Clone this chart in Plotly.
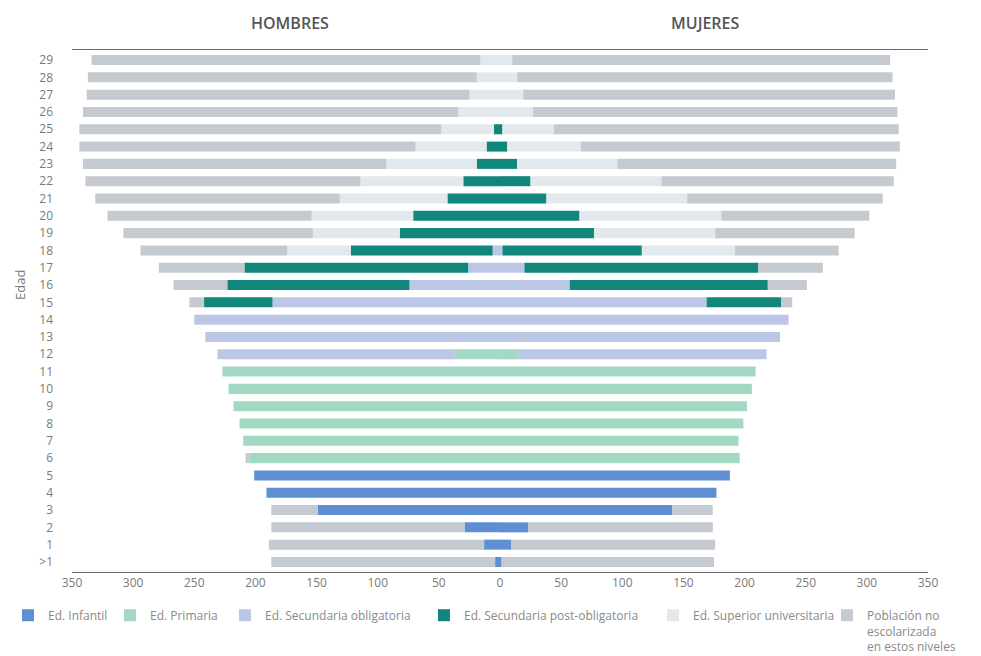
import plotly.graph_objects as go

# edades de abajo (>1) hacia arriba (29)
edades = [">1", "1", "2", "3", "4", "5", "6", "7", "8", "9",
          "10", "11", "12", "13", "14", "15", "16", "17", "18", "19",
          "20", "21", "22", "23", "24", "25", "26", "27", "28", "29"]

# HOMBRES (miles)
h_infantil = [4, 13, 29, 149, 191, 201, 0, 0, 0, 0,
              0, 0, 0, 0, 0, 0, 0, 0, 0, 0,
              0, 0, 0, 0, 0, 0, 0, 0, 0, 0]
h_primaria = [0, 0, 0, 0, 0, 0, 205, 210, 213, 218,
              222, 227, 37, 0, 0, 0, 0, 0, 0, 0,
              0, 0, 0, 0, 0, 0, 0, 0, 0, 0]
h_sec_obl = [0, 0, 0, 0, 0, 0, 0, 0, 0, 0,
             0, 0, 194, 241, 250, 186, 74, 26, 6, 0,
             0, 0, 0, 0, 0, 0, 0, 0, 0, 0]
h_sec_post = [0, 0, 0, 0, 0, 0, 0, 0, 0, 0,
              0, 0, 0, 0, 0, 56, 149, 183, 116, 82,
              71, 43, 30, 19, 11, 5, 0, 0, 0, 0]
h_superior = [0, 0, 0, 0, 0, 0, 0, 0, 0, 0,
              0, 0, 0, 0, 0, 0, 0, 0, 52, 71,
              83, 88, 84, 74, 58, 43, 34, 25, 19, 16]
h_no_esc = [183, 176, 158, 38, 0, 0, 3, 0, 0, 0,
            0, 0, 0, 0, 0, 12, 44, 70, 120, 155,
            167, 200, 225, 248, 275, 296, 307, 313, 318, 318]

# MUJERES (miles)
m_infantil = [1, 9, 23, 141, 177, 188, 0, 0, 0, 0,
              0, 0, 0, 0, 0, 0, 0, 0, 0, 0,
              0, 0, 0, 0, 0, 0, 0, 0, 0, 0]
m_primaria = [0, 0, 0, 0, 0, 0, 196, 195, 199, 202,
              206, 209, 14, 0, 0, 0, 0, 0, 0, 0,
              0, 0, 0, 0, 0, 0, 0, 0, 0, 0]
m_sec_obl = [0, 0, 0, 0, 0, 0, 0, 0, 0, 0,
             0, 0, 204, 229, 236, 169, 57, 20, 2, 0,
             0, 0, 0, 0, 0, 0, 0, 0, 0, 0]
m_sec_post = [0, 0, 0, 0, 0, 0, 0, 0, 0, 0,
              0, 0, 0, 0, 0, 61, 162, 191, 114, 77,
              65, 38, 25, 14, 6, 2, 0, 0, 0, 0]
m_superior = [0, 0, 0, 0, 0, 0, 0, 0, 0, 0,
              0, 0, 0, 0, 0, 0, 0, 0, 76, 99,
              116, 115, 107, 82, 60, 42, 27, 19, 14, 10]
m_no_esc = [174, 167, 151, 33, 0, 0, 0, 0, 0, 0,
            0, 0, 0, 0, 0, 9, 32, 53, 85, 114,
            121, 160, 190, 228, 261, 282, 298, 304, 307, 309]

niveles = [
    ("Ed. Infantil", h_infantil, m_infantil, "#5f8fd3"),
    ("Ed. Primaria", h_primaria, m_primaria, "#a3d9c2"),
    ("Ed. Secundaria obligatoria", h_sec_obl, m_sec_obl, "#bcc6e6"),
    ("Ed. Secundaria post-obligatoria", h_sec_post, m_sec_post, "#10877a"),
    ("Ed. Superior universitaria", h_superior, m_superior, "#e3e8ec"),
    ("Población no<br>escolarizada<br>en estos niveles", h_no_esc, m_no_esc, "#c4cacf"),
]

# una leyenda por nivel para poder colocarlas como en el original
legend_ids = ["legend", "legend2", "legend3", "legend4", "legend5", "legend6"]
legend_x = [0.0, 0.1048, 0.2230, 0.4275, 0.6629, 0.8417]

fig = go.Figure()
for (nombre, hombres, mujeres, color), lid in zip(niveles, legend_ids):
    fig.add_trace(go.Bar(
        y=edades, x=[-v for v in hombres], orientation="h",
        name=nombre, legendgroup=nombre, legend=lid,
        marker=dict(color=color, line=dict(width=0)),
        customdata=hombres, hovertemplate="Hombres %{y}: %{customdata}<extra></extra>",
    ))
    fig.add_trace(go.Bar(
        y=edades, x=mujeres, orientation="h",
        name=nombre, legendgroup=nombre, legend=lid, showlegend=False,
        marker=dict(color=color, line=dict(width=0)),
        hovertemplate="Mujeres %{y}: %{x}<extra></extra>",
    ))

ticks = [-350, -300, -250, -200, -150, -100, -50, 0, 50, 100, 150, 200, 250, 300, 350]

# la página tiene 8 px de margen, así que la figura es algo menor que la ventana
fig.update_layout(
    width=973,
    height=648,
    barmode="relative",
    bargap=0.42,
    plot_bgcolor="white",
    paper_bgcolor="white",
    font=dict(family="Open Sans, Noto Sans, sans-serif", color="#7a7a7a"),
    margin=dict(l=64, r=53, t=42, b=84),
    xaxis=dict(
        range=[-350, 350],
        tickvals=ticks,
        ticktext=[str(abs(t)) for t in ticks],
        tickfont=dict(size=12, color="#7a7a7a"),
        showgrid=False,
        zeroline=False,
        showline=True,
        mirror=True,
        linecolor="#6a6a6a",
        linewidth=1,
        automargin=False,
        fixedrange=True,
    ),
    yaxis=dict(
        type="category",
        categoryorder="array",
        categoryarray=edades,
        range=[-0.58, 29.58],
        tickfont=dict(size=12, color="#7a7a7a"),
        ticklabelstandoff=18,
        showgrid=False,
        zeroline=False,
        automargin=False,
    ),
    annotations=[
        dict(text="HOMBRES", x=-172, xref="x", y=1.052, yref="paper", yanchor="middle",
             showarrow=False, font=dict(size=16, color="#555555", weight=600)),
        dict(text="MUJERES", x=168, xref="x", y=1.052, yref="paper", yanchor="middle",
             showarrow=False, font=dict(size=16, color="#555555", weight=600)),
        dict(text="Edad", textangle=-90, x=-0.0607, xref="paper", xanchor="center",
             y=0.55, yref="paper", yanchor="middle",
             showarrow=False, font=dict(size=13, color="#7a7a7a")),
    ],
)

for lid, lx in zip(legend_ids, legend_x):
    fig.update_layout({lid: dict(
        orientation="h",
        xref="container",
        yref="container",
        x=lx,
        xanchor="left",
        y=0.085,
        yanchor="top",
        valign="top",
        font=dict(size=12, color="#8a8a8a"),
        itemclick=False,
        bgcolor="rgba(0,0,0,0)",
    )})

fig.write_html("out.html")
